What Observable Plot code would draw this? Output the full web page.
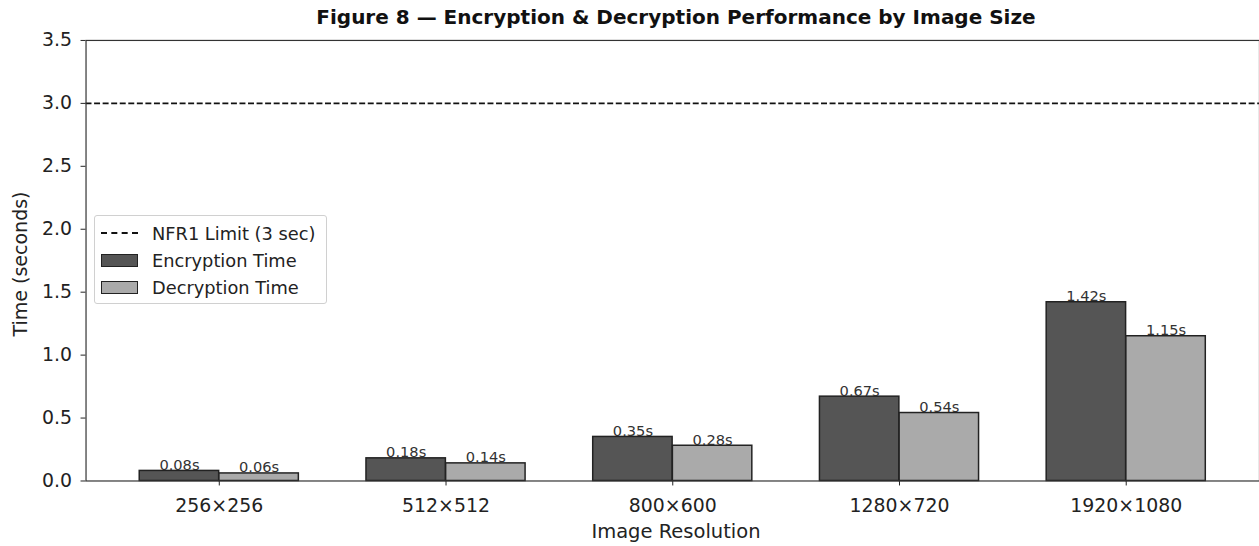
<!DOCTYPE html>
<html>
<head>
<meta charset="utf-8">
<script src="https://cdn.jsdelivr.net/npm/d3@7"></script>
<script src="https://cdn.jsdelivr.net/npm/@observablehq/plot@0.6"></script>
<style>
  html, body { margin: 0; padding: 0; background: white; overflow: hidden; width: 1259px; height: 546px; }
  #wrap { position: relative; width: 1259px; height: 546px; overflow: hidden; font-family: "DejaVu Sans", sans-serif; }
  #title { position: absolute; left: 86px; width: 1180px; top: 5px; text-align: center; font-weight: bold; font-size: 20px; color: #111; line-height: 24px; }
  #chart { position: absolute; left: 0; top: 30px; }
  #xlabel { position: absolute; left: 86px; width: 1180px; top: 520px; text-align: center; font-size: 19.5px; color: #222; line-height: 24px; }
  #ylabel { position: absolute; left: 20px; top: 264px; transform: translate(-50%, -50%) rotate(-90deg); white-space: nowrap; font-size: 19px; color: #222; line-height: 24px; }
  #legend { position: absolute; left: 94px; top: 215px; width: 233px; height: 89px; border: 1px solid #d0d0d0; border-radius: 3px; background: rgba(255,255,255,0.85); box-sizing: border-box; font-size: 17.8px; color: #222; }
  .item { position: absolute; left: 6px; height: 20px; display: flex; align-items: center; }
  .sw { width: 37px; height: 13px; border: 1.5px solid #222; box-sizing: border-box; margin-right: 14px; }
  .dash { width: 37px; height: 0; border-top: 2px dashed #111; margin-right: 14px; }
</style>
</head>
<body>
<div id="wrap">
  <div id="title">Figure 8 — Encryption &amp; Decryption Performance by Image Size</div>
  <div id="chart"></div>
  <div id="xlabel">Image Resolution</div>
  <div id="ylabel">Time (seconds)</div>
  <div id="legend"></div>
</div>
<script>
const categories = ["256×256", "512×512", "800×600", "1280×720", "1920×1080"];
const encryption = [0.08, 0.18, 0.35, 0.67, 1.42];
const decryption = [0.06, 0.14, 0.28, 0.54, 1.15];
const limit = 3;
const yTicks = [0, 0.5, 1.0, 1.5, 2.0, 2.5, 3.0, 3.5];
const seriesNames = ["NFR1 Limit (3 sec)", "Encryption Time", "Decryption Time"];
const colors = { enc: "#555555", dec: "#aaaaaa" };

const encData = categories.map((c, i) => ({ cat: c, v: encryption[i] }));
const decData = categories.map((c, i) => ({ cat: c, v: decryption[i] }));

const W = 1266, marginLeft = 86, marginRight = 0;
const pIn = 0.298, pOut = 0.2335;
const step = (W - marginLeft - marginRight) / (categories.length - pIn + 2 * pOut);
const half = step * (1 - pIn) / 2;
const fmt = d3.format(".2f");

const chart = Plot.plot({
  width: W,
  height: 516,
  marginLeft, marginRight,
  marginTop: 10,
  marginBottom: 63,
  style: { fontFamily: "DejaVu Sans", fontSize: "19px", color: "#222", background: "white", overflow: "visible" },
  x: { type: "band", domain: categories, paddingInner: pIn, paddingOuter: pOut, align: 0.5,
       label: null, tickSize: 5, tickPadding: 13 },
  y: { domain: [0, 3.5], ticks: yTicks, tickFormat: d3.format(".1f"),
       label: null, tickSize: 5, tickPadding: 9 },
  marks: [
    Plot.barY(encData, { x: "cat", y: "v", fill: colors.enc, stroke: "#222", strokeWidth: 1.5, insetRight: half }),
    Plot.barY(decData, { x: "cat", y: "v", fill: colors.dec, stroke: "#222", strokeWidth: 1.5, insetLeft: half }),
    Plot.text(encData, { x: "cat", y: "v", text: d => fmt(d.v) + "s", dx: -half / 2, dy: -1, lineAnchor: "bottom", fontSize: 14.7, fill: "#333" }),
    Plot.text(decData, { x: "cat", y: "v", text: d => fmt(d.v) + "s", dx: half / 2, dy: -1, lineAnchor: "bottom", fontSize: 14.7, fill: "#333" }),
    Plot.ruleY([limit], { stroke: "#111", strokeWidth: 1.8, strokeDasharray: "6,2.6" }),
    Plot.frame({ stroke: "#333", strokeWidth: 1.2 })
  ]
});
document.getElementById("chart").appendChild(chart);

const legend = document.getElementById("legend");
const items = [
  { name: seriesNames[0], kind: "dash" },
  { name: seriesNames[1], kind: "enc" },
  { name: seriesNames[2], kind: "dec" }
];
items.forEach((it, i) => {
  const row = document.createElement("div");
  row.className = "item";
  row.style.top = (7 + i * 27) + "px";
  const sw = document.createElement("div");
  if (it.kind === "dash") sw.className = "dash";
  else { sw.className = "sw"; sw.style.background = colors[it.kind]; }
  row.appendChild(sw);
  const t = document.createElement("span");
  t.textContent = it.name;
  row.appendChild(t);
  legend.appendChild(row);
});
</script>
</body>
</html>
